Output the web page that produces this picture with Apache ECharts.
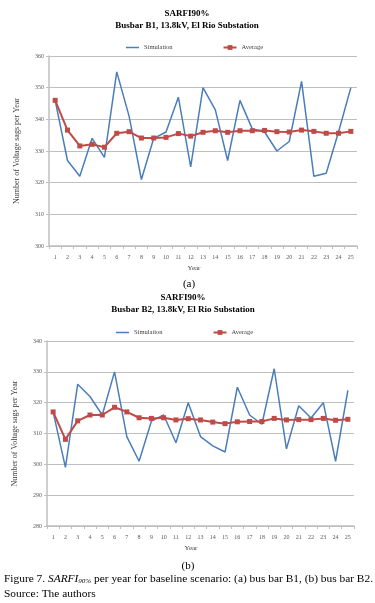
<!DOCTYPE html>
<html>
<head>
<meta charset="utf-8">
<script src="https://cdn.jsdelivr.net/npm/echarts@6/dist/echarts.min.js"></script>
<style>
  html, body { margin: 0; padding: 0; background: #fff; }
  #chart { width: 375px; height: 603px; }
</style>
</head>
<body>
<div id="chart"></div>
<script>
// years on the x axis
const years = ['1','2','3','4','5','6','7','8','9','10','11','12','13','14','15','16','17','18','19','20','21','22','23','24','25']
// (a) bus bar B1
const simB1 = [346,327,322,334,328,355,341,321,334,336,347,325,350,343,327,346,337,336,330,333,352,322,323,336,350]
const avgB1 = [346,336.6,331.6,332.1,331.2,335.6,336.1,334.1,334.1,334.3,335.5,334.7,335.9,336.4,335.9,336.4,336.4,336.5,336.1,336.0,336.6,336.2,335.6,335.6,336.2]
// (b) bus bar B2
const simB2 = [317,299,326,322,316,330,309,301,314,316,307,320,309,306,304,325,316,313,331,305,319,315,320,301,324]
const avgB2 = [317,308.1,314.1,316,316,318.5,317,315.1,314.9,315.1,314.4,314.8,314.4,313.7,313.2,313.8,313.9,313.9,314.9,314.4,314.5,314.5,314.9,314.3,314.6]

const serif = '"Liberation Serif", "Times New Roman", serif'
const blue = '#4a7ebb'
const red = '#be4b48'
const gridGray = '#bfbfbf'
const labelGray = '#595959'

const chart = echarts.init(document.getElementById('chart'))

function xAxisOf(gridIndex){
    return {
        type:'category',
        gridIndex:gridIndex,
        data:years,
        boundaryGap:true,
        axisLine:{ lineStyle:{ color:gridGray, width:1.5 } },
        axisTick:{ show:true, length:3, lineStyle:{ color:gridGray } },
        axisLabel:{ fontSize:6, color:labelGray, fontFamily:serif, margin:8, interval:0 }
    }
}
function yAxisOf(gridIndex, min, max){
    return {
        type:'value',
        gridIndex:gridIndex,
        min:min,
        max:max,
        interval:10,
        name:'Number of Voltage sags per Year',
        nameLocation:'middle',
        nameGap:28,
        nameTextStyle:{ fontSize:8, color:'#404040', fontFamily:serif },
        axisLine:{ show:true, lineStyle:{ color:gridGray, width:1.5 } },
        axisTick:{ show:true, length:3, lineStyle:{ color:gridGray } },
        splitLine:{ lineStyle:{ color:gridGray, width:1 } },
        axisLabel:{ fontSize:6, color:labelGray, fontFamily:serif, margin:5 }
    }
}
function simSeries(idx, data){
    return {
        name:'Simulation', type:'line', xAxisIndex:idx, yAxisIndex:idx,
        data:data, symbol:'none', lineStyle:{ color:blue, width:1.5 }, itemStyle:{ color:blue },
        animation:false
    }
}
function avgSeries(idx, data){
    return {
        name:'Average', type:'line', xAxisIndex:idx, yAxisIndex:idx,
        data:data, symbol:'rect', symbolSize:5, showSymbol:true,
        lineStyle:{ color:red, width:2 }, itemStyle:{ color:red },
        animation:false
    }
}
function legendOf(left, top){
    return {
        left:left, top:top, itemGap:50, itemWidth:13, itemHeight:6,
        textStyle:{ fontSize:6.5, color:'#404040', fontFamily:serif },
        data:[{ name:'Simulation', icon:'path://M0,0 L13,0 L13,1.5 L0,1.5 Z' }, 'Average']
    }
}
function titleOf(x, y, text){
    return {
        text:text, left:x, top:y, textAlign:'center', padding:0,
        textStyle:{ fontSize:9, fontWeight:'bold', fontFamily:serif, color:'#000', lineHeight:12 }
    }
}

const option = {
    animation:false,
    title:[
        titleOf(187, 8, 'SARFI90%\nBusbar B1, 13.8kV, El Rio Substation'),
        titleOf(183, 292, 'SARFI90%\nBusbar B2, 13.8kV, El Rio Substation')
    ],
    legend:[ legendOf(121, 39), legendOf(111, 324) ],
    grid:[
        { left:49, top:56, width:308, height:190 },
        { left:47, top:341, width:307, height:185 }
    ],
    xAxis:[ xAxisOf(0), xAxisOf(1) ],
    yAxis:[ yAxisOf(0, 300, 360), yAxisOf(1, 280, 340) ],
    series:[
        simSeries(0, simB1), avgSeries(0, avgB1),
        simSeries(1, simB2), avgSeries(1, avgB2)
    ],
    graphic:[
        { type:'text', x:194, y:268, style:{ text:'Year', fontSize:7, fontFamily:serif, fill:'#404040', align:'center', verticalAlign:'middle' } },
        { type:'text', x:189, y:284, style:{ text:'(a)', fontSize:11, fontFamily:serif, fill:'#000', align:'center', verticalAlign:'middle' } },
        { type:'text', x:191, y:548, style:{ text:'Year', fontSize:7, fontFamily:serif, fill:'#404040', align:'center', verticalAlign:'middle' } },
        { type:'text', x:188, y:566, style:{ text:'(b)', fontSize:11, fontFamily:serif, fill:'#000', align:'center', verticalAlign:'middle' } },
        {
            type:'text', x:4, y:579,
            style:{
                text:'{a|Figure 7. }{i|SARFI}{s|90%}{a| per year for baseline scenario: (a) bus bar B1, (b) bus bar B2.}',
                verticalAlign:'middle',
                rich:{
                    a:{ fontSize:11.4, fontFamily:serif, fill:'#000' },
                    i:{ fontSize:11.4, fontFamily:serif, fontStyle:'italic', fill:'#000' },
                    s:{ fontSize:7, fontFamily:serif, fontStyle:'italic', fill:'#000', padding:[4,0,0,0] }
                }
            }
        },
        { type:'text', x:4, y:594, style:{ text:'Source: The authors', fontSize:11.4, fontFamily:serif, fill:'#000', verticalAlign:'middle' } }
    ]
}
chart.setOption(option)
</script>
</body>
</html>
